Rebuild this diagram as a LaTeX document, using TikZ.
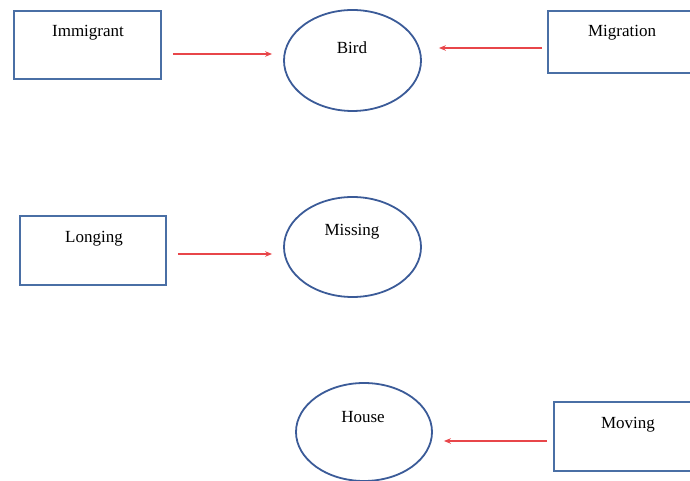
\documentclass[tikz,border=0pt]{standalone}
\usepackage{fontspec}
\setmainfont{Liberation Serif}
\usetikzlibrary{arrows.meta,shapes.geometric}
\definecolor{boxblue}{HTML}{4A6FA5}
\definecolor{ellblue}{HTML}{3B5B98}
\definecolor{arrred}{HTML}{E8464A}
\tikzset{
  conc/.style={draw=boxblue,line width=1.8pt,rectangle,inner sep=0pt},
  sense/.style={draw=ellblue,line width=1.8pt,ellipse,inner sep=0pt,
    minimum width=137pt,minimum height=101pt},
  word/.style={anchor=base,inner sep=0pt,font=\fontsize{17}{20}\selectfont},
  link/.style={draw=arrred,line width=1.3pt,-{Stealth[length=7pt,width=5.5pt]}}
}
\begin{document}
\begin{tikzpicture}[x=1pt,y=1pt]
      \useasboundingbox (0,0) rectangle (690,481);
      \clip (0,0) rectangle (690,481);
      \draw
        (87.5,436) node[conc,minimum width=147pt,minimum height=68pt] (immi){}
        (352.5,420.5) node[sense] (bird){}
        (622,439) node[conc,minimum width=148pt,minimum height=62pt] (migr){}
        (93,230.5) node[conc,minimum width=146pt,minimum height=69pt] (long){}
        (352.5,234) node[sense,minimum height=100pt] (miss){}
        (364,49) node[sense,minimum width=136pt,minimum height=98pt] (house){}
        (628,44.5) node[conc,minimum width=148pt,minimum height=69pt] (moving){};
      \node[word] (t-immi) at (88,444) {Immigrant};
      \node[word] (t-bird) at (352,427) {Bird};
      \node[word] (t-migr) at (622,444) {Migration};
      \node[word] (t-long) at (94,238) {Longing};
      \node[word] (t-miss) at (352,245) {Missing};
      \node[word] (t-house) at (363,58) {House};
      \node[word] (t-moving) at (628,52) {Moving};
      \begin{scope}[link]
        \draw ([xshift=11pt,yshift=-9pt]immi.east) to ([xshift=-11pt,yshift=6.5pt]bird.west);
        \draw ([xshift=-5pt,yshift=-6pt]migr.west) to ([xshift=17pt,yshift=12.5pt]bird.east);
        \draw ([xshift=11pt,yshift=-3.5pt]long.east) to ([xshift=-11pt,yshift=-7pt]miss.west);
        \draw ([xshift=-6pt,yshift=-4.5pt]moving.west) to ([xshift=11pt,yshift=-9pt]house.east);
      \end{scope}
    \end{tikzpicture}
\end{document}
